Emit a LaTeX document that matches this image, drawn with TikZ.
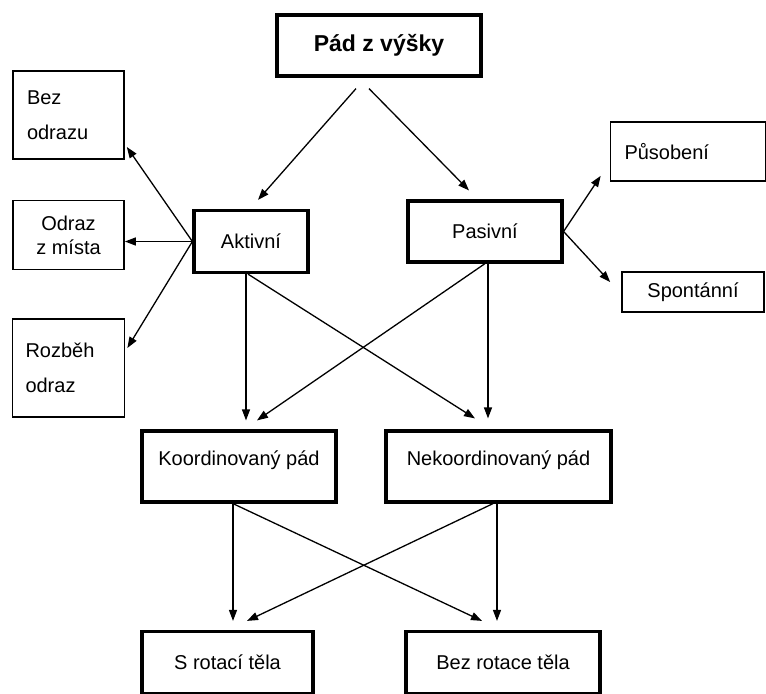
\documentclass[tikz,border=0pt]{standalone}
\usepackage{fontspec}
\setmainfont{Liberation Sans}
\usetikzlibrary{shapes.geometric, arrows.meta}
\tikzstyle{stylethin} = [rectangle, minimum width=55.5pt, minimum height=34.5pt, align=center, draw=black, line width=0.85pt, inner sep=0pt]
\tikzstyle{stylethick} = [rectangle, minimum height=31pt, align=center, draw=black, line width=1.6pt, inner sep=0pt]
\tikzstyle{arrow} = [line width=0.65pt, -{Triangle[length=5.5pt, width=4pt]}]

\begin{document}
\begin{tikzpicture}[node distance=98pt]
\useasboundingbox (0,0) rectangle (383pt,-346.5pt);

\node (pad) [stylethick, minimum width=102pt, minimum height=30.5pt, font=\fontsize{11.5}{14}\selectfont\bfseries] at (189.5pt,-22.75pt) {Pád z výšky};

\node (akt) [stylethick, minimum width=57pt, below of=pad, xshift=-64pt] {Aktivní};
\node (pas) [stylethick, minimum width=77pt, minimum height=30.5pt, right of=akt, xshift=19pt, yshift=5pt] {Pasivní};

\node (odr) [stylethin, left of=akt, xshift=6.75pt, yshift=3.25pt] {Odraz\\z místa};
\node (bez) [stylethin, minimum height=44pt, text width=41.5pt, align=left, above of=odr, yshift=-38pt] {Bez\\[5.5pt]odrazu};
\node (roz) [stylethin, minimum width=56pt, minimum height=49pt, text width=43pt, align=left, below of=odr, yshift=31.5pt] {Rozběh\\[5.5pt]odraz};

\node (pus) [stylethin, minimum width=77.5pt, minimum height=29.5pt, text width=63.5pt, align=left, right of=pas, xshift=3.5pt, yshift=40pt] {Působení};
\node (spo) [stylethin, minimum width=71pt, minimum height=20pt, below of=pus, xshift=2.5pt, yshift=27.75pt] {Spontánní};

\node (koo) [stylethick, minimum width=97pt, minimum height=35.5pt, text depth=8pt, below of=akt, xshift=-6pt, yshift=-14.5pt] {Koordinovaný pád};
\node (nek) [stylethick, minimum width=112.5pt, minimum height=35.5pt, text depth=8pt, right of=koo, xshift=31.75pt] {Nekoordinovaný pád};

\node (srot) [stylethick, minimum width=85.5pt, below of=koo, xshift=-5.75pt] {S rotací těla};
\node (brot) [stylethick, minimum width=97pt, below of=nek, xshift=2.25pt] {Bez rotace těla};

\draw [arrow] ([shift={(-11.5pt,-5.5pt)}]pad.south) -- ([shift={(3.5pt,4.5pt)}]akt.north);
\draw [arrow] ([shift={(-5pt,-5.5pt)}]pad.south) -- ([shift={(-8pt,4.5pt)}]pas.north);

\draw [arrow] (akt.west) -- ([shift={(1pt,-16pt)}]bez.east);
\draw [arrow] (akt.west) -- (akt.west -| odr.east);
\draw [arrow] (akt.west) -- ([shift={(1pt,10pt)}]roz.east);

\draw [arrow] (pas.east) -- ([shift={(-4.5pt,3pt)}]pus.south west);
\draw [arrow] (pas.east) -- ([shift={(-5.5pt,5pt)}]spo.west);

\draw [arrow] ([xshift=-2.5pt]akt.south) -- ([shift={(3.5pt,4.5pt)}]koo.north);
\draw [arrow] ([xshift=-1.5pt]akt.south) -- ([shift={(-11.75pt,5.5pt)}]nek.north);
\draw [arrow] (pas.south) -- ([shift={(9pt,4.5pt)}]koo.north);
\draw [arrow] ([xshift=1.5pt]pas.south) -- ([shift={(-5.25pt,5.5pt)}]nek.north);

\draw [arrow] ([xshift=-3pt]koo.south) -- ([shift={(2.75pt,4.5pt)}]srot.north);
\draw [arrow] ([xshift=-3pt]koo.south) -- ([shift={(-10.5pt,4.5pt)}]brot.north);
\draw [arrow] ([xshift=-2.75pt]nek.south) -- ([shift={(9.75pt,4.5pt)}]srot.north);
\draw [arrow] ([xshift=-0.75pt]nek.south) -- ([shift={(-3pt,4.5pt)}]brot.north);

\end{tikzpicture}
\end{document}
